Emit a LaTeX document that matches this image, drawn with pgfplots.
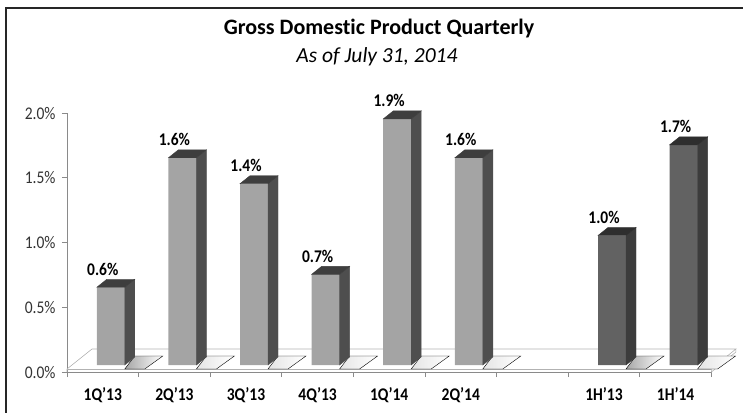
\documentclass[border=0pt]{standalone}
\usepackage{graphicx}
\usepackage{pgfplots}
\pgfplotsset{compat=1.18}
\usepackage{pgfplotstable}
\usepackage{fontspec}
\setmainfont{Carlito}[Ligatures={TeX,CommonOff}]
\definecolor{lightfront}{HTML}{A4A4A4}
\definecolor{lightside}{HTML}{4E4E4E}
\definecolor{lighttop}{HTML}{3E3E3E}
\definecolor{darkfront}{HTML}{626262}
\definecolor{darkside}{HTML}{3C3C3C}
\definecolor{darktop}{HTML}{2E2E2E}
\definecolor{axisgray}{HTML}{8A8A8A}
\pgfkeys{/pgf/number format/assume math mode=true}
\newcommand\vs[1]{\scalebox{1}[1.15]{#1}}

\pgfplotstableread{
x   v
0.5 0.6
1.5 1.6
2.5 1.4
3.5 0.7
4.5 1.9
5.5 1.6
}\quarterly
\pgfplotstableread{
x   v
7.5 1.0
8.5 1.7
}\halfyear

\pgfplotsset{
  front/.style={ybar, bar width=28bp, bar shift=8bp, yshift=7bp, fill=#1, draw=none,
    nodes near coords={\vs{\pgfmathprintnumber[fixed,fixed zerofill,precision=1]{\pgfplotspointmeta}\%}},
    every node near coord/.append style={font=\fontsize{15.5bp}{18bp}\selectfont\bfseries, anchor=base, yshift=12bp, text=black}},
  faces/.style n args={2}{scatter, only marks, mark=text, text mark={},
    visualization depends on={rawy \as \rawv},
    scatter/@pre marker code/.code={%
      \pgfmathsetmacro\hs{-\rawv*129.5}%
      \pgfmathsetmacro\hb{7-\rawv*129.5}%
      \pgfmathsetmacro\hbb{15-\rawv*129.5}%
      \pgfmathsetmacro\sa{\hs+3}%
      \pgfmathsetmacro\sb{\hs+16}%
      \shade[left color=black!35, right color=white] (22bp,\sa bp) -- (32bp,\sb bp) -- (60bp,\sb bp) -- (42bp,\sa bp) -- cycle;
      \fill[#1] (22bp,\hb bp) -- (32bp,\hbb bp) -- (32bp,15bp) -- (22bp,7bp) -- cycle;
      \fill[#2] (-6bp,7bp) -- (22bp,7bp) -- (32bp,15bp) -- (4bp,15bp) -- cycle;
    },
    scatter/@post marker code/.code={}},
}

\begin{document}
\begin{tikzpicture}
\useasboundingbox (-67bp,-41bp) rectangle (676bp,372bp);
\draw[line width=2bp, black!85] (-60.5bp,-45bp) -- (-60.5bp,364bp) -- (680bp,364bp);
\node[font=\fontsize{22bp}{26bp}\selectfont\bfseries, anchor=base] at (312bp,337bp) {Gross Domestic Product Quarterly};
\node[font=\fontsize{21.5bp}{26bp}\selectfont\itshape, anchor=base] at (310bp,309bp) {As of July 31, 2014};
\begin{axis}[
  at={(0,0)}, anchor=south west,
  x=71.6bp, y=129.5bp,
  xmin=0, xmax=9, ymin=0, ymax=2,
  axis lines*=left,
  axis line style={draw=axisgray, line width=0.8bp},
  clip=false,
  tick align=outside, major tick length=5bp,
  tick style={draw=axisgray, line width=0.8bp},
  ytick={0,0.5,1,1.5,2},
  yticklabel={\vs{\pgfmathprintnumber[fixed,fixed zerofill,precision=1]{\tick}\%}},
  yticklabel style={font=\fontsize{15.5bp}{18bp}\selectfont, text=black!80, xshift=-3bp},
  xtick={0,1,2,3,4,5,6,7,8,9},
  xticklabels={\vs{1Q'13},\vs{2Q'13},\vs{3Q'13},\vs{4Q'13},\vs{1Q'14},\vs{2Q'14},{},\vs{1H'13},\vs{1H'14},{}},
  xticklabel style={font=\fontsize{15.5bp}{18bp}\selectfont\bfseries, text=black, xshift=35.8bp, yshift=-7bp},
]
\draw[black!30, line width=0.6bp] (axis cs:0,0) -- ++(0,3bp) -- ++(25bp,20bp) -- ([shift={(24.5bp,23bp)}]axis cs:9,0) -- ([shift={(0bp,3bp)}]axis cs:9,0) -- (axis cs:9,0) -- ++(24.5bp,20bp) -- ++(0,3bp);
\draw[black!30, line width=0.6bp] ([shift={(0bp,3bp)}]axis cs:0,0) -- ([shift={(0bp,3bp)}]axis cs:9,0);
\addplot[front=lightfront] table[x=x,y=v]{\quarterly};
\addplot[front=darkfront] table[x=x,y=v]{\halfyear};
\addplot[faces={lightside}{lighttop}] table[x=x,y=v]{\quarterly};
\addplot[faces={darkside}{darktop}] table[x=x,y=v]{\halfyear};
\end{axis}
\end{tikzpicture}
\end{document}
